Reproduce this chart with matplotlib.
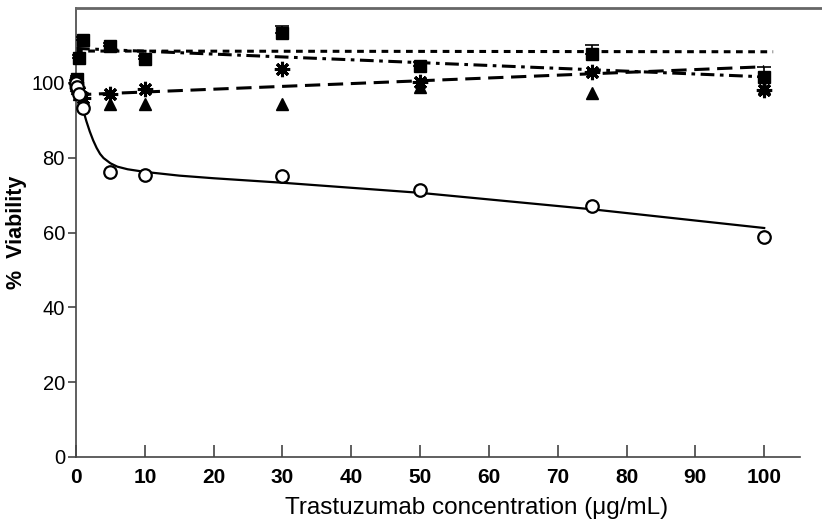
# Trastuzumab dose-response: % viability of cells vs concentration

import numpy as np
import matplotlib.pyplot as plt

plt.rcParams['font.family'] = ['Liberation Sans', 'DejaVu Sans']

# concentrations (ug/mL)
conc = [0, 0.1, 0.5, 1, 5, 10, 30, 50, 75, 100]

# measured viability (%)
circles = [100, 99, 97, 93.3, 76.2, 75.4, 75.1, 71.4, 67.1, 58.8]
squares = [100, 101, 106.7, 111.5, 109.8, 106.3, 113.2, 104.4, 107.8, 101.6]
squares_err = [0.8, 0.8, 0.8, 0.8, 0.8, 0.8, 2.0, 1.2, 2.4, 2.6]
asterisks = [100, 99, 97.5, 96, 97, 98.4, 103.6, 100.3, 103, 98.1]
triangles = [99.5, 98.5, 97, 95.5, 94.4, 94.4, 94.4, 98.8, 97.2, 98.5]

# fitted curve for circles
fit_x = [0, 0.5, 1, 1.5, 2, 2.5, 3, 3.5, 4, 5, 6, 7.5, 10, 15, 20, 30, 50, 75, 100]
fit_y = [100, 97, 93, 89.8, 87, 84.6, 82.6, 81, 79.9, 78.5, 77.6, 76.9, 76.2,
         75.2, 74.5, 73.3, 70.6, 66.2, 61.2]

# straight fit lines (start, end)
line_x = [0, 100]
dotted_x = [0, 101.3]
dotted_y = [108.5, 108.3]
dashdot_y = [109.2, 101.6]
dashed_y = [96.8, 104.3]

fig = plt.figure(figsize=(8.22, 5.25), dpi=100)
ax = fig.add_axes([76 / 822, 68 / 525, 746 / 822, 449 / 525])

ax.plot(fit_x, fit_y, color='black', lw=1.6, zorder=2)
ax.plot(dotted_x, dotted_y, color='black', lw=2.2, dashes=(2.2, 1.8), zorder=2)
ax.plot(line_x, dashdot_y, color='black', lw=2.2, dashes=(4.5, 1.8, 1.2, 1.8), zorder=2)
ax.plot(line_x, dashed_y, color='black', lw=2.2, dashes=(5, 2.5), zorder=2)

eb = ax.errorbar(conc, squares, yerr=[np.zeros(len(squares_err)), squares_err],
                 fmt='s', color='black', ms=8.5, capsize=5, elinewidth=1.2,
                 capthick=1.2, zorder=3)
for art in eb.lines[0:1] + eb.lines[1] + eb.lines[2]:
    art.set_clip_on(False)
ax.plot(conc, triangles, '^', color='black', ms=8.5, ls='none', zorder=3,
        clip_on=False)
ax.plot(conc, asterisks, marker=(8, 2, 0), color='black', ms=11, mew=2.2,
        ls='none', zorder=3, clip_on=False)
ax.plot(conc, circles, 'o', mfc='white', mec='black', ms=9, mew=1.6,
        ls='none', zorder=4, clip_on=False)

ax.set_xlim(0, 108.4)
ax.set_ylim(0, 120)
ax.set_xticks(range(0, 101, 10))
ax.set_yticks(range(0, 101, 20))

ax.spines['right'].set_visible(False)
ax.spines['top'].set_color('#666666')
ax.spines['top'].set_linewidth(2)
ax.spines['bottom'].set_bounds(0, 105.2)
ax.spines['left'].set_color('#444444')
ax.spines['bottom'].set_color('#444444')
ax.spines['left'].set_linewidth(1.2)
ax.spines['bottom'].set_linewidth(1.2)

ax.tick_params(axis='x', direction='in', length=9, width=1.2, color='#444444',
               labelsize=15, pad=8)
ax.tick_params(axis='y', direction='out', length=6, width=1.2, color='#444444',
               labelsize=14.5, pad=2)
for lbl in ax.get_xticklabels():
    lbl.set_fontweight('bold')

ax.set_xlabel('Trastuzumab concentration (μg/mL)', fontsize=17.5)
ax.xaxis.set_label_coords(0.5375, -0.09)
ax.set_ylabel('%  Viability', fontsize=15.5, fontweight='bold')
ax.yaxis.set_label_coords(-0.066, 0.5)

fig.savefig('out.png', dpi=100)
